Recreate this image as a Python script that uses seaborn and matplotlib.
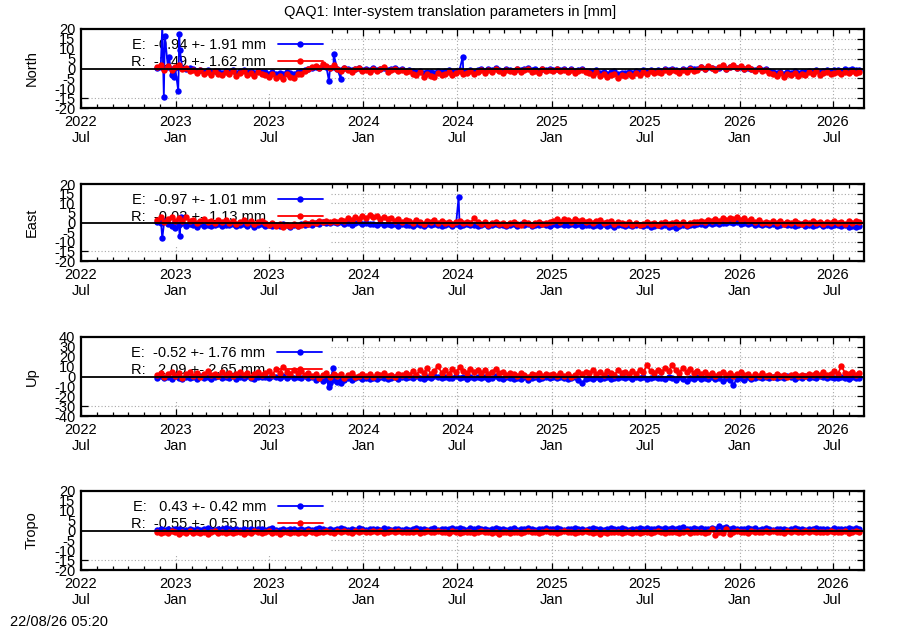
import pandas as pd
import numpy as np
import matplotlib
matplotlib.use("Agg")
import matplotlib.pyplot as plt
import matplotlib.dates as mdates
from matplotlib.patches import Rectangle
import seaborn as sns

# weekly samples of the daily solutions, first one on 2022-11-26
start_date = "2022-11-26"

north_e = [0.3, 0.9, -0.2, 0.6, -0.5, 0.4, 1.0, 0.1, -0.3, 0.5,
           -0.4, -1.2, -0.7, -1.6, -0.9, -1.9, -1.1, -1.5, -2.1, -1.3,
           -1.7, -1.0, -2.2, -1.4, -0.8, -1.9, -1.5, -2.3, -1.2, -1.8,
           -2.0, -2.6, -1.7, -2.9, -2.2, -3.0, -1.9, -2.5, -2.7, -1.8,
           -1.5, -0.9, -0.2, 0.4, 1.0, 0.3, 1.3, 0.7, 0.1, 0.9,
           -0.1, -0.7, 0.4, -0.5, -1.0, 0.0, 0.5, -0.6, -0.2, -0.9,
           0.1, -0.6, -0.2, 0.5, -0.8, -0.3, 0.2, -0.7, -0.4, -1.1,
           -0.7, -1.4, -1.8, -1.1, -2.3, -1.6, -2.0, -2.5, -1.3, -1.9,
           -1.5, -0.9, -1.8, -1.1, -0.6, -1.6, -1.3, -0.7, -1.7, -1.0,
           -0.4, -1.2, -0.1, -0.9, 0.2, -0.6, -1.3, -0.3, -0.7, -1.1,
           -0.2, -0.9, -0.3, 0.1, -0.8, -0.5, -1.2, 0.0, -0.7, -0.2,
           -0.8, 0.0, -0.6, -0.2, -1.1, -0.5, -1.3, -0.8, -0.3, -1.2,
           -1.4, -1.9, -1.0, -2.3, -1.7, -2.6, -2.0, -1.5, -2.8, -2.1,
           -2.4, -1.7, -2.1, -1.2, -1.9, -1.0, -1.5, -0.6, -1.2, -0.8,
           -1.3, -0.4, -0.9, 0.0, -0.6, -1.1, -0.3, -0.8, 0.3, -0.5,
           -0.1, 0.6, 0.0, 1.0, 0.3, -0.4, 0.5, 1.1, 0.0, 0.7,
           1.2, 0.2, 0.8, -0.2, 0.5, 0.0, -0.6, 0.3, -0.8, -0.3,
           -1.3, -1.9, -2.4, -1.6, -2.6, -1.8, -2.2, -1.4, -2.4, -1.7,
           -1.9, -1.1, -1.6, -0.7, -1.8, -1.3, -0.9, -1.5, -1.0, -0.6,
           -1.1, -0.5, -0.9, -0.3, -1.0, -0.6]
north_r = [0.8, 1.6, -0.6, 1.2, -0.9, 0.9, 1.8, -0.4, 0.5, -1.3,
           -0.7, -2.1, -1.0, -2.8, -1.6, -3.2, -1.4, -2.6, -3.5, -1.8,
           -2.9, -1.5, -3.6, -2.2, -1.3, -3.1, -2.5, -3.8, -1.9, -2.7,
           -3.3, -4.5, -2.8, -4.9, -3.7, -5.2, -3.0, -4.1, -4.8, -2.9,
           -2.6, -1.5, -0.4, 0.6, 1.5, 0.3, 2.2, 1.1, 0.2, 1.6,
           -0.2, -1.4, 0.5, -1.0, -1.9, -0.3, 0.4, -1.2, -0.6, -1.7,
           -0.1, -1.3, -0.5, 0.6, -1.6, -0.8, -0.2, -1.5, -0.9, -2.0,
           -1.4, -2.6, -3.2, -2.0, -4.1, -2.9, -3.7, -4.5, -2.5, -3.4,
           -2.8, -1.7, -3.3, -2.1, -1.2, -2.9, -2.4, -1.5, -3.0, -1.9,
           -1.0, -2.2, -0.6, -1.8, -0.3, -1.5, -2.4, -0.9, -1.3, -2.0,
           -0.5, -1.7, -0.8, -0.2, -1.6, -1.1, -2.1, -0.4, -1.3, -0.7,
           -1.5, -0.3, -1.2, -0.6, -1.9, -1.0, -2.2, -1.4, -0.8, -2.0,
           -2.4, -3.1, -1.9, -3.8, -2.8, -4.3, -3.3, -2.6, -4.6, -3.5,
           -4.0, -2.9, -3.6, -2.2, -3.3, -1.9, -2.7, -1.4, -2.3, -1.6,
           -2.4, -1.0, -1.8, -0.6, -1.3, -2.1, -0.9, -1.6, -0.3, -1.2,
           -0.6, 0.8, -0.2, 1.3, 0.1, -0.9, 0.6, 1.6, -0.3, 0.9,
           1.9, 0.3, 1.1, -0.5, 0.7, -0.2, -1.1, 0.2, -1.4, -0.6,
           -2.1, -3.0, -3.8, -2.5, -4.2, -2.9, -3.5, -2.2, -3.9, -2.7,
           -3.2, -2.0, -2.8, -1.5, -3.3, -2.4, -1.8, -2.9, -2.1, -1.6,
           -2.6, -1.7, -2.3, -1.4, -2.5, -1.9]
north_e_out_dates = ["2022-12-06", "2022-12-09", "2022-12-11", "2022-12-19", "2022-12-24",
                     "2022-12-28", "2023-01-06", "2023-01-08", "2023-01-09", "2023-10-26",
                     "2023-11-04", "2023-11-18", "2024-07-12"]
north_e_out_vals = [22.0, -14.3, 16.6, 6.0, -3.3, -4.1, -11.2, 17.3, 9.4, -6.3, 7.3, -5.3, 6.0]

east_e = [0.5, -0.4, 1.0, -0.8, -1.6, 0.2, -1.2, -0.5, -1.9, -1.0,
          -1.4, -2.2, -0.9, -1.7, -1.1, -2.0, -1.3, -0.8, -1.8, -1.2,
          -1.5, -0.9, -1.9, -1.2, -0.7, -1.6, -1.0, -2.1, -1.3, -0.8,
          -1.6, -1.1, -2.0, -1.3, -1.8, -0.9, -1.5, -2.2, -1.2, -1.7,
          -1.0, -1.5, -0.6, -1.2, -0.3, -0.9, 0.4, -0.5, -0.1, 0.3,
          -0.4, 0.1, -0.8, -0.2, -1.1, -0.5, 0.2, -0.7, -0.3, -1.0,
          -0.6, -1.2, -0.4, -1.5, -0.9, -1.3, -0.7, -1.6, -1.0, -1.4,
          -1.1, -1.7, -0.8, -1.3, -1.9, -1.0, -1.5, -0.7, -1.4, -1.8,
          -1.2, -0.8, -1.6, -1.0, -1.8, -1.3, -0.6, -1.4, -1.1, -1.7,
          -1.3, -0.9, -1.8, -1.2, -0.7, -1.5, -1.1, -2.0, -1.4, -0.9,
          -1.6, -1.0, -1.4, -0.8, -1.9, -1.2, -1.5, -0.9, -1.3, -1.7,
          -0.8, -1.3, -0.6, -1.1, -1.5, -0.9, -1.4, -1.0, -1.7, -1.2,
          -1.4, -1.8, -1.1, -1.6, -1.0, -1.9, -1.3, -2.1, -1.5, -1.2,
          -1.7, -1.3, -2.0, -1.5, -1.1, -1.8, -1.4, -2.2, -1.6, -1.3,
          -1.8, -1.4, -2.3, -1.6, -2.9, -1.9, -1.3, -1.7, -1.2, -1.5,
          -1.0, -0.6, -1.3, -0.4, -0.9, -0.3, -0.8, 0.0, -0.5, 0.2,
          -0.3, 0.3, -0.6, -0.1, -0.9, -0.5, -1.2, -0.8, -1.5, -1.0,
          -1.4, -0.9, -1.7, -1.2, -0.8, -1.5, -1.1, -1.8, -1.3, -0.9,
          -1.6, -1.2, -1.9, -1.4, -1.0, -1.7, -1.3, -2.0, -1.5, -1.1,
          -1.8, -1.4, -2.2, -1.6, -2.4, -1.9]
east_r = [1.2, 2.6, 0.4, 1.9, 3.1, 0.8, 2.2, 1.0, 2.7, 0.6,
          1.3, -0.2, 0.9, 1.8, 0.1, 0.7, -0.4, 1.2, 0.3, 1.5,
          0.0, 0.9, -0.6, 0.5, 1.1, -0.3, 0.6, -0.8, 0.4, 0.8,
          -0.5, -1.4, -0.2, -1.9, -0.9, -2.3, -1.1, -1.7, -0.6, -2.0,
          -1.3, -0.4, -1.0, 0.2, -0.3, 0.8, 0.1, 1.0, 0.3, 0.9,
          0.5, 1.4, 0.9, 2.1, 1.2, 2.8, 1.8, 3.4, 2.3, 3.9,
          2.7, 3.5, 1.9, 2.9, 1.6, 2.2, 0.8, 1.7, 0.5, 1.3,
          0.7, -0.2, 1.2, 0.3, -0.6, 0.9, 0.1, 1.4, -0.3, 0.6,
          -0.4, 0.5, -0.9, 0.2, 0.8, -0.5, 0.3, -0.2, 2.3, 0.4,
          -0.8, 0.1, -1.2, -0.3, 0.4, -0.9, -0.1, -1.4, -0.4, 0.2,
          -0.6, -1.1, 0.3, -0.5, -1.3, -0.2, 0.5, -0.8, -0.1, 0.4,
          0.9, 1.6, 0.5, 1.9, 1.1, 0.3, 1.7, 0.8, 1.3, 0.4,
          0.9, -0.2, 0.6, 1.2, -0.4, 0.3, 0.8, -0.6, 0.2, -0.1,
          -0.8, 0.2, -1.1, -0.3, -1.5, -0.6, 0.1, -0.9, -0.2, -1.3,
          -0.5, 0.3, -1.0, -0.2, 0.4, -0.7, 0.1, -1.2, -0.4, 0.5,
          0.2, 0.9, 0.4, 1.3, 0.7, 1.8, 1.0, 2.1, 1.4, 2.5,
          1.9, 2.7, 1.5, 2.2, 0.9, 1.6, 0.4, 1.1, -0.2, 0.5,
          -0.5, 0.6, -0.2, 0.9, -0.7, 0.3, -0.4, 0.8, 0.0, -0.6,
          0.4, -0.5, 0.7, -0.3, 0.2, -0.8, 0.5, -0.1, 0.9, -0.4,
          0.3, -0.6, 0.6, -0.2, 0.8, 0.1]
east_e_out_dates = ["2022-12-03", "2022-12-06", "2022-12-30", "2023-01-09", "2023-01-11", "2024-07-04"]
east_e_out_vals = [1.8, -8.2, -3.0, -7.0, 3.0, 13.1]

up_e = [-2.0, 0.5, -1.3, -0.4, -2.6, 0.8, -1.1, -2.9, -0.2, -1.6,
        -0.8, -2.3, 0.3, -1.5, -0.6, -2.1, -1.0, 0.4, -1.8, -0.5,
        -1.4, 0.2, -2.2, -0.9, -1.7, 0.6, -1.2, -2.5, -0.3, -1.0,
        -0.2, -1.6, 0.9, -0.7, -1.9, 0.4, -1.1, 0.1, -1.5, -0.4,
        -1.3, 0.3, -2.0, -0.8, -3.1, -1.6, -4.2, -2.5, -6.1, -3.4,
        -5.2, -2.3, -4.0, -1.6, -3.3, -2.0, -0.9, -2.8, -1.5, -2.4,
        -1.1, -2.6, -0.5, -1.9, -3.0, -1.3, -0.4, -2.2, -1.0, -1.7,
        -0.6, -1.8, 0.2, -1.2, -2.1, -0.3, -1.5, 0.5, -0.9, -1.6,
        -0.5, -2.0, -1.1, 0.3, -1.7, -0.8, -2.4, -0.2, -1.3, -0.7,
        -1.9, -0.6, -2.8, -1.2, 0.1, -1.5, -2.3, -0.9, -1.6, -3.0,
        -1.4, -2.2, -0.7, -3.1, -1.8, -0.8, -2.5, -1.3, -0.4, -1.9,
        -0.9, -2.0, -0.3, -1.6, -2.7, -1.1, -0.5, -3.8, -6.9, -2.4,
        -1.3, -3.0, -0.8, -2.1, -1.5, -0.4, -2.6, -1.2, -1.9, -0.6,
        -1.7, -0.3, -2.4, -1.0, -1.8, -0.5, -2.2, -1.4, -0.7, -1.9,
        -1.2, -2.8, -0.6, -1.9, -3.4, -1.0, -2.3, -4.1, -1.5, -2.6,
        -0.8, -2.1, -1.4, -3.0, -0.9, -2.5, -1.6, -4.4, -2.0, -3.2,
        -8.2, -2.7, -1.3, -3.5, -0.9, -2.2, -1.5, -0.4, -1.8, -0.7,
        -1.1, -0.2, -1.9, -0.6, -1.4, 0.2, -1.0, -2.1, -0.5, -1.3,
        0.1, -1.2, -0.4, -1.8, 0.3, -0.9, -1.5, -0.2, -1.1, -2.0,
        -0.6, -1.7, -2.6, -0.8, -1.9, -1.2]
up_r = [1.5, 3.8, -0.9, 2.7, 4.6, 0.4, 3.1, -1.5, 2.2, 4.9,
        1.0, 3.6, -0.5, 2.4, 5.1, 1.3, 3.0, 0.2, 4.2, 1.7,
        3.4, 0.6, 2.8, 5.0, 1.1, 3.9, -0.3, 2.5, 4.4, 1.8,
        3.2, 5.6, 2.0, 7.4, 3.8, 9.6, 4.5, 2.6, 6.9, 3.3,
        5.2, 1.8, 4.0, 0.3, 2.9, -1.6, 1.2, 3.5, -0.8, 2.1,
        0.4, 2.6, -1.2, 1.8, 3.3, -0.2, 1.0, 2.9, 0.6, 2.2,
        -0.5, 2.4, 1.1, 3.5, 0.2, 2.0, -0.9, 2.8, 1.3, 3.9,
        2.0, 5.3, 1.5, 6.8, 3.1, 8.9, 2.8, 5.7, 10.2, 4.0,
        6.5, 2.9, 8.1, 4.3, 9.4, 5.2, 3.6, 7.7, 4.8, 6.9,
        3.9, 6.2, 2.5, 5.0, 7.3, 3.1, 4.6, 1.8, 3.7, 2.4,
        0.9, 3.2, 1.6, -0.4, 2.8, 1.2, 3.6, 0.3, 2.1, 1.4,
        2.6, 0.5, 3.3, 1.0, 2.2, -0.6, 1.9, 4.1, 2.7, 5.0,
        3.2, 6.1, 2.4, 4.7, 1.6, 5.5, 3.8, 2.0, 6.4, 3.5,
        4.9, 2.3, 5.8, 3.0, 6.6, 4.1, 11.8, 5.4, 3.2, 7.0,
        4.4, 8.3, 5.1, 11.5, 6.2, 3.7, 9.0, 4.6, 7.2, 3.3,
        5.5, 2.6, 4.3, 1.4, 3.8, 0.5, 2.9, 4.6, 1.8, 3.4,
        0.9, 2.5, 4.2, 1.1, 3.0, -0.4, 2.2, 1.0, 3.1, 0.2,
        1.5, -0.3, 2.4, 0.8, 1.9, -0.6, 1.3, 2.6, 0.4, 1.7,
        0.9, 2.8, 1.4, 3.5, 2.0, 4.1, 1.6, 3.0, 5.2, 2.3,
        10.6, 3.8, 2.1, 4.5, 1.7, 3.2]
up_e_out_dates = ["2023-10-26", "2023-11-03", "2023-11-18"]
up_e_out_vals = [-11.0, 8.5, -6.6]

tropo_e = [0.2, 0.7, 0.4, 0.9, 0.3, 0.6, 1.0, 0.5, 0.1, 0.8,
           0.4, 0.9, 0.2, 0.6, 1.1, 0.5, 0.3, 0.8, 0.6, 1.2,
           0.7, 0.3, 0.9, 0.5, 1.0, 0.4, 0.8, 0.2, 0.6, 0.9,
           0.3, 0.7, 1.1, 0.5, 0.2, 0.8, 0.4, 0.9, 0.6, 0.3,
           0.8, 0.5, 1.0, 0.3, 0.7, 1.2, 0.6, 0.4, 0.9, 0.5,
           0.7, 1.1, 0.6, 0.3, 0.9, 0.5, 1.2, 0.7, 0.4, 1.0,
           0.6, 0.9, 0.4, 1.1, 0.7, 0.3, 0.8, 1.0, 0.5, 0.9,
           0.4, 0.8, 1.2, 0.6, 0.9, 0.3, 0.7, 1.1, 0.5, 0.8,
           1.0, 0.6, 1.3, 0.7, 1.5, 0.9, 0.5, 1.1, 0.8, 1.2,
           0.7, 1.0, 0.4, 0.8, 1.3, 0.6, 0.9, 0.3, 0.7, 1.1,
           0.5, 0.9, 0.6, 1.2, 0.8, 0.4, 1.0, 0.7, 1.3, 0.9,
           0.6, 1.1, 0.8, 0.5, 1.0, 0.7, 1.2, 0.6, 0.9, 0.4,
           0.8, 1.2, 0.7, 1.0, 0.5, 0.9, 1.3, 0.8, 0.6, 1.1,
           0.9, 0.5, 1.0, 0.7, 1.4, 0.8, 1.1, 0.6, 0.9, 1.2,
           1.0, 1.5, 0.9, 1.3, 0.7, 1.1, 1.6, 1.0, 0.8, 1.2,
           0.9, 1.3, 0.7, 1.0, 1.5, 0.8, 2.4, 1.1, 1.7, 0.9,
           1.2, 0.6, 1.0, 0.8, 1.3, 0.7, 1.1, 0.5, 0.9, 1.4,
           0.8, 0.5, 1.0, 0.6, 0.9, 0.4, 0.8, 1.1, 0.6, 0.9,
           0.5, 0.9, 0.7, 1.2, 0.6, 1.0, 0.8, 0.4, 1.1, 0.7,
           1.0, 0.6, 1.3, 0.8, 1.1, 0.7]
tropo_r = [-0.9, -1.5, -0.6, -1.2, -0.4, -1.0, -1.6, -0.7, -1.3, -0.5,
           -1.1, -0.6, -1.4, -0.8, -1.7, -0.9, -0.5, -1.2, -0.7, -1.5,
           -0.8, -1.3, -0.6, -1.0, -1.6, -0.7, -1.1, -0.4, -0.9, -1.4,
           -1.0, -0.5, -1.3, -0.8, -1.8, -0.9, -0.6, -1.2, -0.7, -1.5,
           -0.8, -1.1, -0.4, -0.9, -1.3, -0.6, -1.0, -0.3, -0.8, -1.2,
           -0.5, -0.9, -0.3, -0.7, -1.1, -0.4, -0.8, -0.2, -0.6, -1.0,
           -0.4, -0.8, -0.5, -1.1, -0.6, -0.3, -0.9, -0.5, -0.7, -1.0,
           -0.6, -0.9, -0.4, -1.2, -0.7, -0.5, -1.0, -0.8, -0.4, -0.9,
           -0.7, -1.1, -0.5, -0.9, -1.4, -0.6, -1.0, -0.7, -1.3, -0.8,
           -0.5, -1.0, -0.7, -1.5, -0.8, -1.9, -0.9, -0.6, -1.2, -0.8,
           -0.6, -1.1, -0.7, -0.4, -0.9, -0.6, -1.2, -0.8, -0.5, -1.0,
           -0.7, -1.3, -0.8, -0.5, -1.0, -0.7, -1.2, -0.6, -0.9, -0.4,
           -0.8, -1.4, -1.0, -1.7, -0.9, -1.2, -0.6, -1.0, -0.7, -1.3,
           -0.9, -0.6, -1.1, -0.8, -1.5, -1.0, -0.7, -1.2, -0.9, -0.5,
           -0.8, -1.2, -0.6, -1.0, -0.7, -1.3, -0.9, -0.5, -1.1, -0.8,
           -1.0, -0.6, -1.4, -0.9, 0.8, -2.2, -0.7, -1.1, 0.9, -1.6,
           -0.9, -0.5, -1.0, -0.7, -1.2, -0.4, -0.8, -0.6, -1.0, -0.5,
           -0.7, -0.4, -0.9, -0.6, -1.1, -0.5, -0.8, -0.3, -0.7, -1.0,
           -0.5, -0.8, -0.4, -0.9, -0.6, -1.0, -0.7, -0.3, -0.8, -0.6,
           -0.9, -0.5, -1.1, -0.7, -0.4, -0.8]

panel_names = ["North", "East", "Up", "Tropo"]
panel_limits = [20, 20, 40, 20]
panel_steps = [5, 5, 10, 5]
e_labels = ["E:  -0.94 +- 1.91 mm", "E:  -0.97 +- 1.01 mm", "E:  -0.52 +- 1.76 mm", "E:   0.43 +- 0.42 mm"]
r_labels = ["R:  -1.49 +- 1.62 mm", "R:  -0.03 +- 1.13 mm", "R:   2.09 +- 2.65 mm", "R:  -0.55 +- 0.55 mm"]
e_series = [north_e, east_e, up_e, tropo_e]
r_series = [north_r, east_r, up_r, tropo_r]
e_outliers = [(north_e_out_dates, north_e_out_vals), (east_e_out_dates, east_e_out_vals),
              (up_e_out_dates, up_e_out_vals), ([], [])]


def make_frame(vals, out_dates=(), out_vals=()):
    df = pd.DataFrame({"date": pd.date_range(start_date, periods=len(vals), freq="7D"), "val": vals})
    if len(out_dates):
        extra = pd.DataFrame({"date": pd.to_datetime(out_dates), "val": out_vals})
        df = pd.concat([df, extra], ignore_index=True)
    return df.sort_values("date")


sns.set_style("ticks", {"axes.edgecolor": "black", "xtick.color": "black", "ytick.color": "black",
                        "text.color": "black", "axes.labelcolor": "black"})
plt.rcParams["font.family"] = ["Liberation Sans", "DejaVu Sans"]
plt.rcParams["axes.unicode_minus"] = False
fs = 10.5

fig = plt.figure(figsize=(9, 6.3), dpi=100)
# panel top/bottom in pixels
tops = [29, 184, 337, 491]
bottoms = [108, 261, 416, 570]
xmin = pd.Timestamp("2022-07-01")
xmax = pd.Timestamp("2026-08-31")

for k in range(4):
    ax = fig.add_axes([81 / 900, 1 - bottoms[k] / 630, 783 / 900, (bottoms[k] - tops[k]) / 630])
    lim = panel_limits[k]

    df_e = make_frame(e_series[k], *e_outliers[k])
    df_r = make_frame(r_series[k])
    sns.lineplot(data=df_e, x="date", y="val", ax=ax, color="blue", marker="o", markersize=4.6,
                 markeredgecolor="blue", markeredgewidth=0, linewidth=1.3, estimator=None,
                 label=e_labels[k], zorder=2)
    sns.lineplot(data=df_r, x="date", y="val", ax=ax, color="red", marker="o", markersize=4.6,
                 markeredgecolor="red", markeredgewidth=0, linewidth=1.3, estimator=None,
                 label=r_labels[k], zorder=3)

    ax.set_xlim(xmin, xmax)
    ax.set_ylim(-lim, lim)
    yt = np.arange(-lim, lim + 1, panel_steps[k])
    ax.set_yticks(yt)
    ax.xaxis.set_major_locator(mdates.MonthLocator(bymonth=[1, 7]))
    ax.xaxis.set_minor_locator(mdates.MonthLocator())
    ax.xaxis.set_major_formatter(mdates.DateFormatter("%Y\n%b"))
    ax.tick_params(which="both", direction="in", top=True, right=True, labelsize=fs, width=0.9)
    ax.tick_params(which="major", length=5, pad=4)
    ax.tick_params(axis="x", which="major", pad=5)
    ax.tick_params(which="minor", length=2.8)
    for s in ax.spines.values():
        s.set_linewidth(1.6)

    # dotted grid, partly hidden behind the key box like in gnuplot
    for yv in yt[1:-1]:
        ax.axhline(yv, color="#a8a8a8", lw=0.8, ls=(0, (1, 2)), zorder=0.5)
    for xv in pd.date_range("2023-01-01", "2026-07-01", freq="6MS"):
        ax.axvline(xv, color="#a8a8a8", lw=0.8, ls=(0, (1, 2)), zorder=0.5)
    ax.add_patch(Rectangle((0, 0.1875), 0.319, 0.8125, transform=ax.transAxes,
                           facecolor="white", edgecolor="none", zorder=1))
    ax.axhline(0, color="black", lw=1.3, zorder=4)

    ax.set_xlabel("")
    ax.set_ylabel(panel_names[k], fontsize=fs)
    ax.yaxis.set_label_coords(-0.054, 0.5)

    handles, labels = ax.get_legend_handles_labels()
    leg = ax.legend(handles, labels, loc="upper left", bbox_to_anchor=(0.062, 0.9),
                    markerfirst=False, frameon=False, fontsize=fs, handlelength=3.1,
                    handletextpad=0.8, labelspacing=0.17, borderpad=0.1, borderaxespad=0)
    leg.set_zorder(1.5)

fig.text(0.5, 1 - 12 / 630, "QAQ1: Inter-system translation parameters in [mm]",
         ha="center", va="center", fontsize=fs)
fig.text(10 / 900, 1 - 622 / 630, "22/08/26 05:20", ha="left", va="center", fontsize=fs)

fig.savefig("out.png", dpi=100)
